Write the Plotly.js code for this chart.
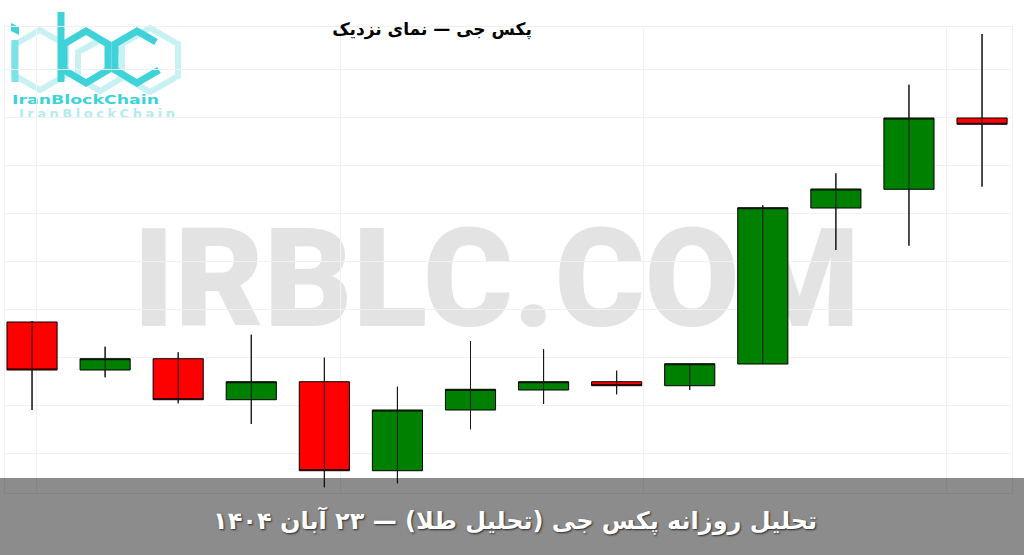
<!DOCTYPE html>
<html>
<head>
<meta charset="utf-8">
<script src="https://cdn.plot.ly/plotly-3.0.1.min.js"></script>
<style>
  html, body { margin: 0; padding: 0; background: #ffffff; }
  #wrap { position: relative; width: 1024px; height: 555px; overflow: hidden; }
  #bg { position: absolute; left: 0; top: 0; }
  #chart { position: absolute; left: 0; top: 0; width: 1024px; height: 555px; }
</style>
</head>
<body>
<div id="wrap">
  <svg id="bg" width="1024" height="555" xmlns="http://www.w3.org/2000/svg">
    <!-- big watermark behind the chart -->
    <text x="133" y="326" font-family="Roboto, 'Open Sans', 'DejaVu Sans', sans-serif" font-weight="900"
          font-size="138" fill="#e3e3e3" textLength="727" lengthAdjust="spacingAndGlyphs">IRBLC.COM</text>
    <!-- logo: ghost hexagons -->
    <g fill="none" stroke="#c8f1f3" stroke-width="6" stroke-linejoin="miter">
      <polygon points="40,30 66,45 66,75 40,90 14,75 14,45"/>
      <polygon points="150,28 178,44 178,76 150,92 122,76 122,44"/>
      <polygon points="100,40 122,52 122,78 100,91 78,78 78,52"/>
    </g>
    <!-- logo: main strokes -->
    <g fill="none" stroke="#3fd2d9" stroke-width="7" stroke-linejoin="miter">
      <line x1="61" y1="12" x2="61" y2="82"/>
      <polygon points="86,31 108,44 108,70 86,83 64,70 64,44"/>
      <polyline points="156,42 137,31 115,44 115,70 137,83 159,70"/>
    </g>
    <line x1="15" y1="40" x2="15" y2="82" stroke="#7fe2e6" stroke-width="7"/>
    <polygon points="11,23 19,27 19,35 11,31" fill="#3fd2d9"/>
    <text x="12" y="104" font-family="'DejaVu Sans', sans-serif" font-weight="bold" font-size="13"
          fill="#3fd2d9" textLength="147" lengthAdjust="spacingAndGlyphs">IranBlockChain</text>
    <text x="19" y="118" font-family="'DejaVu Sans', sans-serif" font-weight="bold" font-size="13"
          fill="#b2ecef" textLength="156" lengthAdjust="spacing">IranBlockChain</text>
  </svg>
  <div id="chart"></div>
</div>
<script>
// ---- data (daily candles) ----
const dates = ['2025-10-31','2025-11-01','2025-11-02','2025-11-03','2025-11-04','2025-11-05','2025-11-06',
               '2025-11-07','2025-11-08','2025-11-09','2025-11-10','2025-11-11','2025-11-12','2025-11-13'];
const openPrices  = [4043.4, 4009.8, 4017.7, 3989.0, 4001.6, 3939.3, 3981.8, 3995.8, 4001.6, 3998.8, 4014.0, 4123.2, 4136.3, 4186.2];
const highPrices  = [4044.1, 4026.1, 4022.2, 4034.5, 4018.4, 3998.1, 4029.9, 4024.3, 4009.3, 4014.2, 4125.1, 4147.5, 4209.5, 4245.0];
const lowPrices   = [3981.8, 4004.7, 3986.5, 3972.0, 3927.7, 3930.5, 3968.3, 3986.0, 3992.8, 3995.8, 4014.0, 4093.8, 4096.8, 4138.1];
const closePrices = [4009.8, 4017.7, 3989.0, 4001.6, 3939.3, 3981.8, 3996.3, 4001.6, 3998.8, 4014.2, 4123.4, 4136.5, 4186.2, 4181.8];

const chartTitle = 'پکس جی — نمای نزدیک';
const bannerText = 'تحلیل روزانه پکس جی (تحلیل طلا) — ۲۳ آبان ۱۴۰۴';

const candles = {
  type: 'candlestick',
  x: dates,
  open: openPrices,
  high: highPrices,
  low: lowPrices,
  close: closePrices,
  increasing: { fillcolor: '#008000', line: { color: '#000000', width: 1 } },
  decreasing: { fillcolor: '#ff0000', line: { color: '#000000', width: 1 } },
  whiskerwidth: 0,
  hoverinfo: 'skip',
  showlegend: false
};

// wick drawn through the body (high-low line on top of the boxes)
const wicks = {
  type: 'ohlc',
  x: dates,
  open: openPrices,
  high: highPrices,
  low: lowPrices,
  close: closePrices,
  tickwidth: 0,
  increasing: { line: { color: '#1a1a1a', width: 1 } },
  decreasing: { line: { color: '#1a1a1a', width: 1 } },
  hoverinfo: 'skip',
  showlegend: false
};

const layout = {
  width: 1024,
  height: 555,
  margin: { l: 5, r: 12, t: 27, b: 62 },
  paper_bgcolor: 'rgba(0,0,0,0)',
  plot_bgcolor: 'rgba(0,0,0,0)',
  boxgap: 0.02,
  title: {
    text: chartTitle,
    font: { family: "'DejaVu Sans', sans-serif", size: 17, color: '#000000', weight: 'bold' },
    xref: 'container', yref: 'container',
    x: 0.4219, y: 0.948, xanchor: 'center', yanchor: 'middle'
  },
  xaxis: {
    type: 'date',
    range: ['2025-10-30 15:07:12', '2025-11-13 09:50:24'],
    rangeslider: { visible: false },
    showticklabels: false,
    ticks: '',
    showgrid: true,
    gridcolor: '#f1f1f1',
    tick0: '2025-11-04 05:09:36',
    dtick: 358560000,
    showline: true, mirror: true, linecolor: '#efefef', linewidth: 1,
    zeroline: false
  },
  yaxis: {
    range: [3923.7, 4249.9],
    showticklabels: false,
    ticks: '',
    showgrid: true,
    gridcolor: '#f1f1f1',
    tick0: 4186.9,
    dtick: 33.6,
    showline: true, mirror: true, linecolor: '#efefef', linewidth: 1,
    zeroline: false
  },
  shapes: [{
    type: 'rect', xref: 'paper', yref: 'paper', layer: 'above',
    x0: -0.006, x1: 1.013, y0: 0.0322, y1: -0.135,
    fillcolor: 'rgba(0,0,0,0.45)', line: { width: 0 }
  }],
  annotations: [{
    xref: 'paper', yref: 'paper',
    x: 0.5065, y: -0.058, xanchor: 'center', yanchor: 'middle',
    text: bannerText, showarrow: false,
    font: { family: "'DejaVu Sans', sans-serif", size: 24, color: '#ffffff', weight: 'bold',
            shadow: '1px 1px 2px rgba(0,0,0,0.7)' }
  }]
};

Plotly.newPlot('chart', [candles, wicks], layout, { staticPlot: true, displayModeBar: false });
</script>
</body>
</html>
